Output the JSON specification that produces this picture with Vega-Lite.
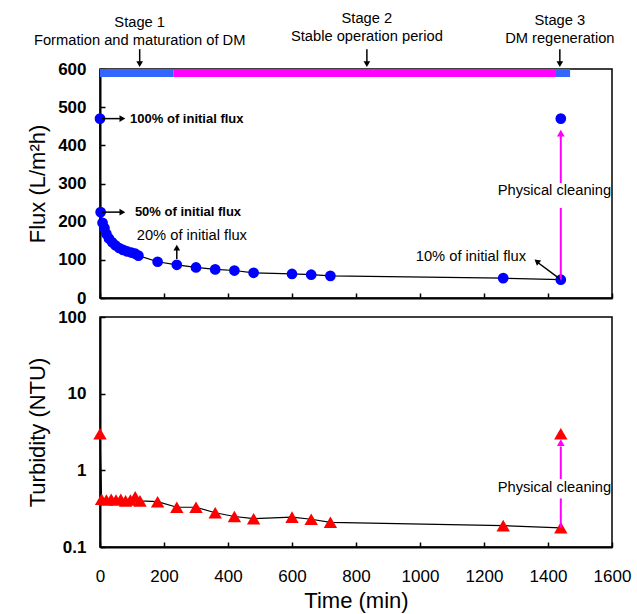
{
  "$schema": "https://vega.github.io/schema/vega-lite/v6.json",
  "padding": {"left": 25, "top": 10, "right": 5, "bottom": 2},
  "background": "white",
  "spacing": 0,
  "config": {
    "font": "Liberation Sans",
    "view": {"stroke": "black", "strokeWidth": 1.5},
    "axis": {
      "domainColor": "black", "domainWidth": 2,
      "tickColor": "black", "tickWidth": 1.5, "tickSize": -5,
      "labelColor": "black", "titleColor": "black", "grid": false,
      "labelFontSize": 17, "titleFontSize": 22, "titleFontWeight": "normal",
      "labelFont": "Liberation Sans", "titleFont": "Liberation Sans",
      "labelOverlap": false, "labelFlush": false
    }
  },
  "datasets": {
    "flux": [
      {"t": 0, "flux": 470, "phase": "run"},
      {"t": 2, "flux": 225, "phase": "run"},
      {"t": 8, "flux": 197, "phase": "run"},
      {"t": 14, "flux": 183, "phase": "run"},
      {"t": 20, "flux": 168, "phase": "run"},
      {"t": 28, "flux": 156, "phase": "run"},
      {"t": 38, "flux": 146, "phase": "run"},
      {"t": 48, "flux": 138, "phase": "run"},
      {"t": 60, "flux": 131, "phase": "run"},
      {"t": 72, "flux": 126, "phase": "run"},
      {"t": 85, "flux": 122, "phase": "run"},
      {"t": 98, "flux": 119, "phase": "run"},
      {"t": 110, "flux": 116, "phase": "run"},
      {"t": 120, "flux": 111, "phase": "run"},
      {"t": 180, "flux": 95, "phase": "run"},
      {"t": 240, "flux": 87, "phase": "run"},
      {"t": 300, "flux": 80, "phase": "run"},
      {"t": 360, "flux": 75, "phase": "run"},
      {"t": 420, "flux": 72, "phase": "run"},
      {"t": 480, "flux": 66, "phase": "run"},
      {"t": 600, "flux": 63, "phase": "run"},
      {"t": 660, "flux": 61, "phase": "run"},
      {"t": 720, "flux": 58, "phase": "run"},
      {"t": 1260, "flux": 52, "phase": "run"},
      {"t": 1440, "flux": 48, "phase": "run"},
      {"t": 1440, "flux": 470, "phase": "cleaned"}
    ],
    "turb": [
      {"t": 0, "turb": 3.0, "phase": "run"},
      {"t": 5, "turb": 0.42, "phase": "run"},
      {"t": 20, "turb": 0.41, "phase": "run"},
      {"t": 35, "turb": 0.42, "phase": "run"},
      {"t": 50, "turb": 0.41, "phase": "run"},
      {"t": 65, "turb": 0.42, "phase": "run"},
      {"t": 80, "turb": 0.40, "phase": "run"},
      {"t": 95, "turb": 0.41, "phase": "run"},
      {"t": 110, "turb": 0.45, "phase": "run"},
      {"t": 125, "turb": 0.40, "phase": "run"},
      {"t": 180, "turb": 0.39, "phase": "run"},
      {"t": 240, "turb": 0.33, "phase": "run"},
      {"t": 300, "turb": 0.33, "phase": "run"},
      {"t": 360, "turb": 0.28, "phase": "run"},
      {"t": 420, "turb": 0.25, "phase": "run"},
      {"t": 480, "turb": 0.234, "phase": "run"},
      {"t": 600, "turb": 0.245, "phase": "run"},
      {"t": 660, "turb": 0.23, "phase": "run"},
      {"t": 720, "turb": 0.21, "phase": "run"},
      {"t": 1260, "turb": 0.19, "phase": "run"},
      {"t": 1440, "turb": 0.178, "phase": "run"},
      {"t": 1440, "turb": 3.0, "phase": "cleaned"}
    ],
    "stages": [
      {"stage": "Stage 1", "start": 0, "end": 230},
      {"stage": "Stage 2", "start": 230, "end": 1422},
      {"stage": "Stage 3", "start": 1422, "end": 1469}
    ],
    "blackRules": [
      {"t": 6, "t2": 66, "v": 470, "v2": 470},
      {"t": 6, "t2": 66, "v": 225, "v2": 225},
      {"t": 240, "t2": 240, "v": 102, "v2": 128},
      {"t": 1440, "t2": 1365, "v": 48, "v2": 95},
      {"t": 124, "t2": 124, "v": 652, "v2": 618},
      {"t": 834, "t2": 834, "v": 652, "v2": 618},
      {"t": 1437, "t2": 1437, "v": 652, "v2": 618}
    ],
    "magentaRulesTop": [
      {"t": 1440, "v": 48, "v2": 236},
      {"t": 1440, "v": 301, "v2": 425}
    ],
    "headsRight": [{"t": 70, "v": 470}, {"t": 70, "v": 225}],
    "headsUp": [{"t": 240, "v": 132}],
    "headsDiag": [{"t": 1365, "v": 96}],
    "headsDown": [{"t": 124, "v": 613}, {"t": 834, "v": 613}, {"t": 1437, "v": 613}],
    "headsMagentaTop": [{"t": 1440, "v": 432}],
    "notesBold": [
      {"t": 94, "v": 470, "label": "100% of initial flux"},
      {"t": 109, "v": 225, "label": "50% of initial flux"}
    ],
    "notesCenterTop": [
      {"t": 287, "v": 162, "label": "20% of initial flux"},
      {"t": 1159, "v": 107, "label": "10% of initial flux"},
      {"t": 1420, "v": 280, "label": "Physical cleaning"},
      {"t": 124, "v": 721, "label": "Stage 1"},
      {"t": 124, "v": 673, "label": "Formation and maturation of DM"},
      {"t": 834, "v": 731, "label": "Stage 2"},
      {"t": 834, "v": 684, "label": "Stable operation period"},
      {"t": 1437, "v": 726, "label": "Stage 3"},
      {"t": 1437, "v": 679, "label": "DM regeneration"}
    ],
    "magentaRulesBottom": [
      {"t": 1440, "v": 0.178, "v2": 0.43},
      {"t": 1440, "v": 0.77, "v2": 2.05}
    ],
    "headsMagentaBottom": [{"t": 1440, "v": 2.3}],
    "notesBottom": [{"t": 1420, "v": 0.59, "label": "Physical cleaning"}]
  },
  "vconcat": [
    {
      "width": 512,
      "height": 229,
      "layer": [
        {
          "data": {"name": "flux"},
          "transform": [{"filter": "datum.phase === 'run'"}],
          "mark": {"type": "line", "color": "black", "strokeWidth": 1.2},
          "encoding": {
            "x": {"field": "t", "type": "quantitative",
              "scale": {"domain": [0, 1600], "nice": false},
              "axis": {"values": [0, 200, 400, 600, 800, 1000, 1200, 1400, 1600], "labels": false, "title": null}},
            "y": {"field": "flux", "type": "quantitative",
              "scale": {"domain": [0, 600], "nice": false},
              "axis": {"values": [0, 100, 200, 300, 400, 500, 600], "tickCount": 7, "labelOverlap": false, "format": "d", "title": "Flux (L/m²h)", "labelFontWeight": "bold", "labelPadding": 19, "titlePadding": 8}}
          }
        },
        {
          "data": {"name": "stages"},
          "mark": {"type": "rect"},
          "encoding": {
            "x": {"field": "start", "type": "quantitative"},
            "x2": {"field": "end"},
            "y": {"datum": 600, "type": "quantitative",
              "axis": {"values": [0, 100, 200, 300, 400, 500, 600], "tickCount": 7, "labelOverlap": false, "format": "d", "title": "Flux (L/m²h)", "labelFontWeight": "bold", "labelPadding": 19, "titlePadding": 8}},
            "y2": {"datum": 579},
            "color": {"field": "stage", "type": "nominal",
              "scale": {"domain": ["Stage 1", "Stage 2", "Stage 3"], "range": ["#3366FF", "#FF00FF", "#3366FF"]},
              "legend": null}
          }
        },
        {
          "data": {"name": "flux"},
          "mark": {"type": "point", "shape": "circle", "filled": true, "color": "#0000FF", "size": 115, "opacity": 1},
          "encoding": {
            "x": {"field": "t", "type": "quantitative"},
            "y": {"field": "flux", "type": "quantitative"}
          }
        },
        {
          "data": {"name": "blackRules"},
          "mark": {"type": "rule", "color": "black", "strokeWidth": 1.5},
          "encoding": {
            "x": {"field": "t", "type": "quantitative"},
            "x2": {"field": "t2"},
            "y": {"field": "v", "type": "quantitative"},
            "y2": {"field": "v2"}
          }
        },
        {
          "data": {"name": "magentaRulesTop"},
          "mark": {"type": "rule", "color": "#FF00FF", "strokeWidth": 2},
          "encoding": {
            "x": {"field": "t", "type": "quantitative"},
            "y": {"field": "v", "type": "quantitative"},
            "y2": {"field": "v2"}
          }
        },
        {
          "data": {"name": "headsRight"},
          "mark": {"type": "point", "shape": "triangle-right", "filled": true, "color": "black", "size": 45, "opacity": 1},
          "encoding": {
            "x": {"field": "t", "type": "quantitative"},
            "y": {"field": "v", "type": "quantitative"}
          }
        },
        {
          "data": {"name": "headsUp"},
          "mark": {"type": "point", "shape": "triangle-up", "filled": true, "color": "black", "size": 45, "opacity": 1},
          "encoding": {
            "x": {"field": "t", "type": "quantitative"},
            "y": {"field": "v", "type": "quantitative"}
          }
        },
        {
          "data": {"name": "headsDiag"},
          "mark": {"type": "point", "shape": "triangle-up", "filled": true, "color": "black", "size": 45, "opacity": 1, "angle": -51},
          "encoding": {
            "x": {"field": "t", "type": "quantitative"},
            "y": {"field": "v", "type": "quantitative"}
          }
        },
        {
          "data": {"name": "headsDown"},
          "mark": {"type": "point", "shape": "triangle-down", "filled": true, "color": "black", "size": 45, "opacity": 1},
          "encoding": {
            "x": {"field": "t", "type": "quantitative"},
            "y": {"field": "v", "type": "quantitative"}
          }
        },
        {
          "data": {"name": "headsMagentaTop"},
          "mark": {"type": "point", "shape": "triangle-up", "filled": true, "color": "#FF00FF", "size": 60, "opacity": 1},
          "encoding": {
            "x": {"field": "t", "type": "quantitative"},
            "y": {"field": "v", "type": "quantitative"}
          }
        },
        {
          "data": {"name": "notesBold"},
          "mark": {"type": "text", "align": "left", "baseline": "middle", "fontSize": 13, "fontWeight": "bold", "color": "black", "font": "Liberation Sans"},
          "encoding": {
            "x": {"field": "t", "type": "quantitative"},
            "y": {"field": "v", "type": "quantitative"},
            "text": {"field": "label"}
          }
        },
        {
          "data": {"name": "notesCenterTop"},
          "mark": {"type": "text", "align": "center", "baseline": "middle", "fontSize": 14.7, "color": "black", "font": "Liberation Sans"},
          "encoding": {
            "x": {"field": "t", "type": "quantitative"},
            "y": {"field": "v", "type": "quantitative"},
            "text": {"field": "label"}
          }
        }
      ]
    },
    {
      "width": 512,
      "height": 230,
      "layer": [
        {
          "data": {"name": "turb"},
          "transform": [{"filter": "datum.phase === 'run'"}],
          "mark": {"type": "line", "color": "black", "strokeWidth": 1.2},
          "encoding": {
            "x": {"field": "t", "type": "quantitative",
              "scale": {"domain": [0, 1600], "nice": false},
              "axis": {"values": [0, 200, 400, 600, 800, 1000, 1200, 1400, 1600], "format": "d", "labelFlush": false, "title": "Time (min)", "labelPadding": 26, "titlePadding": 6}},
            "y": {"field": "turb", "type": "quantitative",
              "scale": {"type": "log", "domain": [0.1, 100], "nice": false},
              "axis": {"values": [0.1, 1, 10, 100], "format": "~g", "title": "Turbidity (NTU)", "labelFontWeight": "bold", "labelPadding": 19, "titlePadding": 8}}
          }
        },
        {
          "data": {"name": "turb"},
          "mark": {"type": "point", "shape": "triangle-up", "filled": true, "color": "#FF0000", "size": 180, "opacity": 1},
          "encoding": {
            "x": {"field": "t", "type": "quantitative"},
            "y": {"field": "turb", "type": "quantitative"}
          }
        },
        {
          "data": {"name": "magentaRulesBottom"},
          "mark": {"type": "rule", "color": "#FF00FF", "strokeWidth": 2},
          "encoding": {
            "x": {"field": "t", "type": "quantitative"},
            "y": {"field": "v", "type": "quantitative"},
            "y2": {"field": "v2"}
          }
        },
        {
          "data": {"name": "headsMagentaBottom"},
          "mark": {"type": "point", "shape": "triangle-up", "filled": true, "color": "#FF00FF", "size": 60, "opacity": 1},
          "encoding": {
            "x": {"field": "t", "type": "quantitative"},
            "y": {"field": "v", "type": "quantitative"}
          }
        },
        {
          "data": {"name": "notesBottom"},
          "mark": {"type": "text", "align": "center", "baseline": "middle", "fontSize": 14.7, "color": "black", "font": "Liberation Sans"},
          "encoding": {
            "x": {"field": "t", "type": "quantitative"},
            "y": {"field": "v", "type": "quantitative"},
            "text": {"field": "label"}
          }
        }
      ]
    }
  ]
}
